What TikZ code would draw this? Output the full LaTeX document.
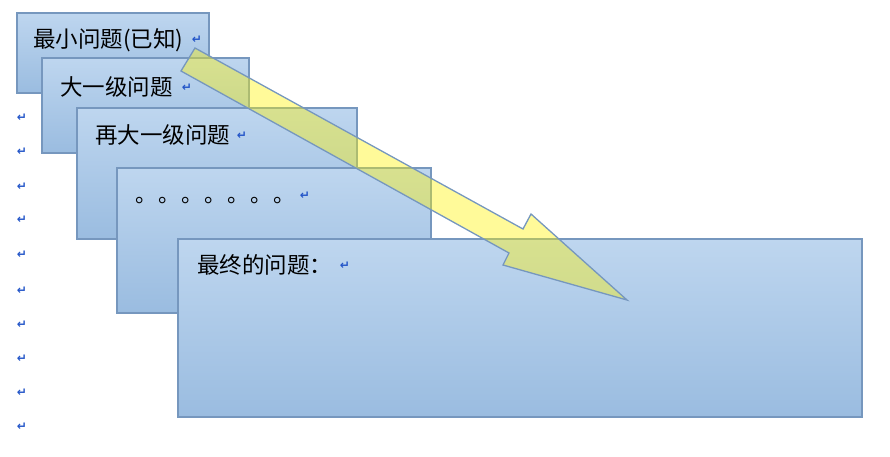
\documentclass[tikz,border=0pt]{standalone}
\usepackage{fontspec}
\newfontfamily\cjk{Noto Sans CJK SC}
\newfontfamily\djvb{DejaVu Sans Bold}
\definecolor{boxtop}{RGB}{190,214,239}
\definecolor{boxbot}{RGB}{154,188,224}
\definecolor{boxline}{RGB}{118,151,190}
\definecolor{markblue}{RGB}{35,85,200}
\begin{document}
\begin{tikzpicture}[x=1pt,y=-1pt,
  panel/.style={draw=boxline,line width=1.6pt,top color=boxtop,bottom color=boxbot},
  cjklabel/.style={anchor=west,inner sep=0pt,font=\cjk\fontsize{22.5}{22.5}\selectfont},
  dotslabel/.style={anchor=west,inner sep=0pt,font=\cjk\fontsize{21.5}{21.5}\selectfont\addfontfeature{LetterSpace=7}},
  pmark/.style={inner sep=0pt,text=markblue,font=\djvb\fontsize{12}{12}\selectfont},
  bigarrow/.style={draw=boxline,line width=1.3pt,fill=yellow,fill opacity=0.4,draw opacity=1}]
\useasboundingbox (0,0) rectangle (890,456);
% panels
\path[panel] (17,13) rectangle (209,93);
\node[cjklabel] (t1) at (33,40) {最小问题(已知)};
\node[pmark] (m1) at (197,40) {↵};
\path[panel] (42,58) rectangle (249,153);
\node[cjklabel] (t2) at (60,87) {大一级问题};
\node[pmark] (m2) at (187,88) {↵};
\path[panel] (77,108) rectangle (357,239);
\node[cjklabel] (t3) at (95,135) {再大一级问题};
\node[pmark] (m3) at (242,136) {↵};
\path[panel] (117,168) rectangle (431,313);
\node[dotslabel] (t4) at (135,201) {。。。。。。。};
\node[pmark] (m4) at (305,196) {↵};
\path[panel] (178,239) rectangle (862,417);
\node[cjklabel] (t5) at (197,265) {最终的问题：};
\node[pmark] (m5) at (345,266) {↵};
% paragraph marks along left edge
\foreach \yy [count=\i] in {118,152,187,220,255,291,325,359,393,427}
  \node[pmark] (lm\i) at (22,\yy) {↵};
% big arrow
\path[bigarrow] (195,48) -- (523,229) -- (531,214) -- (627,300) -- (503,265) -- (509,253) -- (181,71) -- cycle;
\end{tikzpicture}
\end{document}
